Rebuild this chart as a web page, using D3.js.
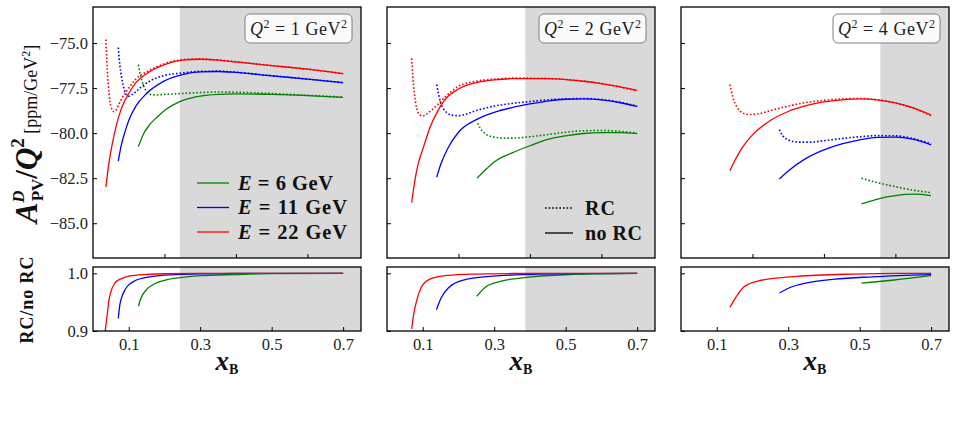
<!DOCTYPE html>
<html><head><meta charset="utf-8">
<script src="https://cdn.jsdelivr.net/npm/d3@7"></script>
<style>body{margin:0;background:#fff}svg{display:block}</style>
</head><body><svg id="c" width="955" height="428"></svg>
<script>
// ---------------- data ----------------
const q2Labels = ["1", "2", "4"];
const energyLabels = ["6", "11", "22"];
const seriesColors = ["#008000", "#0000ff", "#ff0000"];
const shadeStart = [0.243, 0.387, 0.558];
const xTicksTop = [0.2, 0.4, 0.6];
const xTicksBottom = [0.1, 0.3, 0.5, 0.7];
const xTickLabels = ["0.1", "0.3", "0.5", "0.7"];
const yTicksTop = [-85, -82.5, -80, -77.5, -75];
const yTickLabelsTop = ["\u221285.0", "\u221282.5", "\u221280.0", "\u221277.5", "\u221275.0"];
const yTicksBottom = [0.9, 1.0];
const yTickLabelsBottom = ["0.9", "1.0"];

// Q^2 = 1 GeV^2
const q1_e6_norc = [[0.127,-80.75],[0.14,-80.1],[0.16,-79.5],[0.18,-79.1],[0.20,-78.75],[0.25,-78.2],[0.30,-77.95],[0.35,-77.85],[0.40,-77.82],[0.50,-77.85],[0.60,-77.92],[0.70,-78.02]];
const q1_e6_rc = [[0.127,-76.2],[0.133,-76.8],[0.14,-77.3],[0.15,-77.7],[0.16,-77.85],[0.18,-77.88],[0.20,-77.85],[0.25,-77.8],[0.30,-77.75],[0.35,-77.72],[0.40,-77.73],[0.50,-77.8],[0.60,-77.9],[0.70,-78.0]];
const q1_e6_ratio = [[0.127,0.943],[0.135,0.958],[0.15,0.972],[0.17,0.981],[0.20,0.988],[0.25,0.993],[0.30,0.996],[0.40,0.998],[0.50,0.9995],[0.70,1.0]];
const q1_e11_norc = [[0.0707,-81.55],[0.08,-80.6],[0.09,-79.9],[0.10,-79.3],[0.12,-78.5],[0.15,-77.8],[0.20,-77.1],[0.25,-76.75],[0.30,-76.6],[0.35,-76.58],[0.40,-76.63],[0.50,-76.82],[0.60,-77.0],[0.70,-77.2]];
const q1_e11_rc = [[0.0707,-75.25],[0.075,-76.2],[0.08,-76.9],[0.085,-77.4],[0.09,-77.75],[0.10,-77.95],[0.11,-77.85],[0.12,-77.7],[0.14,-77.35],[0.17,-77.0],[0.20,-76.8],[0.25,-76.66],[0.30,-76.57],[0.35,-76.56],[0.40,-76.62],[0.50,-76.81],[0.60,-77.0],[0.70,-77.2]];
const q1_e11_ratio = [[0.0707,0.922],[0.075,0.945],[0.08,0.958],[0.09,0.972],[0.10,0.980],[0.12,0.988],[0.15,0.993],[0.20,0.997],[0.30,0.999],[0.40,1.0],[0.70,1.0]];
const q1_e22_norc = [[0.036,-83.0],[0.045,-81.6],[0.055,-80.5],[0.065,-79.6],[0.08,-78.6],[0.10,-77.8],[0.12,-77.2],[0.15,-76.7],[0.20,-76.2],[0.25,-75.95],[0.30,-75.9],[0.35,-75.95],[0.40,-76.05],[0.50,-76.25],[0.60,-76.45],[0.70,-76.7]];
const q1_e22_rc = [[0.036,-74.8],[0.040,-76.5],[0.045,-77.8],[0.050,-78.5],[0.058,-78.8],[0.065,-78.7],[0.07,-78.5],[0.08,-78.1],[0.10,-77.5],[0.12,-77.0],[0.15,-76.6],[0.20,-76.15],[0.25,-75.92],[0.30,-75.88],[0.35,-75.94],[0.40,-76.04],[0.50,-76.25],[0.60,-76.45],[0.70,-76.7]];
const q1_e22_ratio = [[0.034,0.899],[0.040,0.93],[0.045,0.955],[0.05,0.968],[0.06,0.982],[0.07,0.988],[0.08,0.991],[0.10,0.995],[0.15,0.998],[0.20,0.9993],[0.30,1.0],[0.70,1.0]];

// Q^2 = 2 GeV^2
const q2_e6_norc = [[0.252,-82.5],[0.28,-81.95],[0.30,-81.6],[0.35,-81.1],[0.40,-80.7],[0.45,-80.35],[0.50,-80.15],[0.55,-80.02],[0.60,-79.97],[0.65,-79.97],[0.70,-80.03]];
const q2_e6_rc = [[0.254,-79.45],[0.26,-79.7],[0.27,-79.95],[0.28,-80.1],[0.30,-80.22],[0.33,-80.28],[0.36,-80.27],[0.40,-80.2],[0.45,-80.08],[0.50,-79.95],[0.55,-79.87],[0.60,-79.85],[0.65,-79.9],[0.70,-80.0]];
const q2_e6_ratio = [[0.251,0.960],[0.275,0.976],[0.317,0.986],[0.392,0.993],[0.509,0.998],[0.60,0.9993],[0.70,1.0]];
const q2_e11_norc = [[0.139,-82.45],[0.15,-81.75],[0.17,-80.85],[0.20,-79.95],[0.25,-79.25],[0.30,-78.85],[0.35,-78.58],[0.40,-78.38],[0.45,-78.22],[0.50,-78.12],[0.55,-78.1],[0.60,-78.15],[0.65,-78.3],[0.70,-78.52]];
const q2_e11_rc = [[0.139,-77.3],[0.145,-77.9],[0.15,-78.3],[0.16,-78.7],[0.17,-78.9],[0.18,-79.0],[0.20,-79.03],[0.22,-78.95],[0.25,-78.75],[0.30,-78.5],[0.35,-78.35],[0.40,-78.25],[0.45,-78.15],[0.50,-78.1],[0.55,-78.08],[0.60,-78.13],[0.65,-78.28],[0.70,-78.5]];
const q2_e11_ratio = [[0.1385,0.937],[0.152,0.958],[0.174,0.976],[0.211,0.988],[0.296,0.995],[0.40,0.998],[0.55,0.9995],[0.70,1.0]];
const q2_e22_norc = [[0.069,-83.85],[0.08,-82.4],[0.09,-81.5],[0.10,-80.9],[0.12,-79.7],[0.14,-78.85],[0.16,-78.2],[0.20,-77.55],[0.25,-77.2],[0.30,-77.05],[0.35,-76.98],[0.40,-76.97],[0.45,-76.98],[0.50,-77.03],[0.55,-77.12],[0.60,-77.25],[0.65,-77.42],[0.70,-77.63]];
const q2_e22_rc = [[0.069,-75.85],[0.072,-76.8],[0.076,-77.7],[0.08,-78.3],[0.085,-78.75],[0.09,-78.95],[0.10,-79.05],[0.11,-78.95],[0.12,-78.8],[0.14,-78.45],[0.16,-78.05],[0.20,-77.4],[0.25,-77.12],[0.30,-77.0],[0.35,-76.95],[0.40,-76.95],[0.50,-77.02],[0.60,-77.25],[0.70,-77.66]];
const q2_e22_ratio = [[0.069,0.9035],[0.075,0.93],[0.083,0.9526],[0.09,0.967],[0.099,0.979],[0.12,0.990],[0.168,0.9965],[0.243,0.9988],[0.35,0.9997],[0.50,1.0],[0.70,1.0]];

// Q^2 = 4 GeV^2
const q4_e6_norc = [[0.505,-83.93],[0.53,-83.78],[0.55,-83.66],[0.60,-83.47],[0.65,-83.39],[0.70,-83.47]];
const q4_e6_rc = [[0.505,-82.5],[0.55,-82.75],[0.60,-82.97],[0.65,-83.17],[0.70,-83.3]];
const q4_e6_ratio = [[0.505,0.983],[0.59,0.988],[0.70,0.996]];
const q4_e11_norc = [[0.275,-82.55],[0.30,-82.1],[0.35,-81.4],[0.40,-80.93],[0.45,-80.6],[0.50,-80.37],[0.55,-80.23],[0.60,-80.22],[0.65,-80.35],[0.70,-80.65]];
const q4_e11_rc = [[0.275,-79.8],[0.285,-80.15],[0.30,-80.38],[0.33,-80.5],[0.36,-80.5],[0.40,-80.42],[0.45,-80.3],[0.50,-80.2],[0.55,-80.14],[0.60,-80.15],[0.65,-80.3],[0.70,-80.6]];
const q4_e11_ratio = [[0.276,0.966],[0.302,0.9746],[0.356,0.984],[0.43,0.990],[0.537,0.994],[0.70,0.9977]];
const q4_e22_norc = [[0.137,-82.08],[0.15,-81.55],[0.17,-80.85],[0.20,-80.1],[0.25,-79.3],[0.30,-78.8],[0.35,-78.48],[0.40,-78.27],[0.45,-78.15],[0.50,-78.1],[0.55,-78.15],[0.60,-78.32],[0.65,-78.6],[0.70,-79.0]];
const q4_e22_rc = [[0.137,-77.3],[0.145,-78.0],[0.155,-78.5],[0.17,-78.85],[0.19,-78.97],[0.21,-78.95],[0.25,-78.75],[0.30,-78.5],[0.35,-78.3],[0.40,-78.18],[0.45,-78.1],[0.50,-78.08],[0.55,-78.15],[0.60,-78.33],[0.65,-78.62],[0.70,-79.03]];
const q4_e22_ratio = [[0.137,0.941],[0.153,0.958],[0.175,0.976],[0.217,0.987],[0.324,0.9948],[0.484,0.9988],[0.60,1.0],[0.70,1.0]];

const panelSeries = [
  { norc: [q1_e6_norc, q1_e11_norc, q1_e22_norc], rc: [q1_e6_rc, q1_e11_rc, q1_e22_rc], ratio: [q1_e6_ratio, q1_e11_ratio, q1_e22_ratio] },
  { norc: [q2_e6_norc, q2_e11_norc, q2_e22_norc], rc: [q2_e6_rc, q2_e11_rc, q2_e22_rc], ratio: [q2_e6_ratio, q2_e11_ratio, q2_e22_ratio] },
  { norc: [q4_e6_norc, q4_e11_norc, q4_e22_norc], rc: [q4_e6_rc, q4_e11_rc, q4_e22_rc], ratio: [q4_e6_ratio, q4_e11_ratio, q4_e22_ratio] }
];

// ---------------- layout ----------------
const svg = d3.select("#c");
const SERIF = "'Liberation Serif','DejaVu Serif',serif";
const panelLeft = [93, 387, 681];
const panelW = 268;
const topY0 = 7, topY1 = 258, botY0 = 267, botY1 = 331;
const shadeColor = "#d9d9d9";

const yTop = d3.scaleLinear().domain([-86.93, -73.0]).range([topY1, topY0]);
const yBot = d3.scaleLinear().domain([0.9, 1.011]).range([botY1, botY0]);

const defs = svg.append("defs");

panelLeft.forEach((L, p) => {
  const x = d3.scaleLinear().domain([0, 0.75]).range([L, L + panelW]);
  const data = panelSeries[p];

  ["top", "bot"].forEach(which => {
    const y0 = which === "top" ? topY0 : botY0;
    const y1 = which === "top" ? topY1 : botY1;
    const id = `clip-${p}-${which}`;
    defs.append("clipPath").attr("id", id).append("rect")
      .attr("x", L).attr("y", y0).attr("width", panelW).attr("height", y1 - y0);
    const g = svg.append("g");
    g.append("rect").attr("x", x(shadeStart[p])).attr("y", y0)
      .attr("width", x(0.75) - x(shadeStart[p])).attr("height", y1 - y0).attr("fill", shadeColor);

    const plot = g.append("g").attr("clip-path", `url(#${id})`);
    if (which === "top") {
      const line = d3.line().x(d => x(d[0])).y(d => yTop(d[1])).curve(d3.curveMonotoneX);
      [0, 1, 2].forEach(i => {
        plot.append("path").attr("d", line(data.norc[i])).attr("fill", "none")
          .attr("stroke", seriesColors[i]).attr("stroke-width", 1.3);
        plot.append("path").attr("d", line(data.rc[i])).attr("fill", "none")
          .attr("stroke", seriesColors[i]).attr("stroke-width", 1.6)
          .attr("stroke-dasharray", "1.6,2.0");
      });
      const ax = d3.axisLeft(yTop).tickValues(yTicksTop).tickSize(-4).tickPadding(5)
        .tickFormat((d, i) => p === 0 ? yTickLabelsTop[i] : "");
      const ga = g.append("g").attr("transform", `translate(${L},0)`).call(ax);
      const bx = d3.axisBottom(x).tickValues(xTicksTop).tickSize(-4).tickFormat("");
      const gb = g.append("g").attr("transform", `translate(0,${y1})`).call(bx);
      [ga, gb].forEach(a => { a.select(".domain").remove(); a.selectAll("line").attr("stroke", "#000").attr("stroke-width", 1); });
      ga.selectAll("text").attr("font-family", SERIF).attr("font-size", 16.5).attr("fill", "#222");
    } else {
      const line = d3.line().x(d => x(d[0])).y(d => yBot(d[1])).curve(d3.curveMonotoneX);
      [0, 1, 2].forEach(i => {
        plot.append("path").attr("d", line(data.ratio[i])).attr("fill", "none")
          .attr("stroke", seriesColors[i]).attr("stroke-width", 1.3);
      });
      const ax = d3.axisLeft(yBot).tickValues(yTicksBottom).tickSize(-4).tickPadding(5)
        .tickFormat((d, i) => p === 0 ? yTickLabelsBottom[i] : "");
      const ga = g.append("g").attr("transform", `translate(${L},0)`).call(ax);
      const bx = d3.axisBottom(x).tickValues(xTicksBottom).tickSize(-4).tickPadding(7)
        .tickFormat((d, i) => xTickLabels[i]);
      const gb = g.append("g").attr("transform", `translate(0,${y1})`).call(bx);
      [ga, gb].forEach(a => {
        a.select(".domain").remove();
        a.selectAll("line").attr("stroke", "#000").attr("stroke-width", 1);
        a.selectAll("text").attr("font-family", SERIF).attr("font-size", 16.5).attr("fill", "#222");
      });
    }
    g.append("rect").attr("x", L).attr("y", y0).attr("width", panelW).attr("height", y1 - y0)
      .attr("fill", "none").attr("stroke", "#000").attr("stroke-width", 1.3);
  });

  // Q^2 label box
  const bx0 = L + panelW - 116, by0 = 14;
  svg.append("rect").attr("x", bx0).attr("y", by0).attr("width", 107).attr("height", 29)
    .attr("rx", 5).attr("fill", "#fff").attr("fill-opacity", 0.85)
    .attr("stroke", "#808080").attr("stroke-width", 1);
  const qt = svg.append("text").attr("x", bx0 + 5).attr("y", by0 + 21)
    .attr("textLength", 97).attr("lengthAdjust", "spacing")
    .attr("font-family", SERIF).attr("font-size", 18).attr("fill", "#222");
  qt.append("tspan").attr("font-style", "italic").text("Q");
  qt.append("tspan").attr("font-size", 12).attr("dy", -7).text("2");
  qt.append("tspan").attr("dy", 7).text(" = " + q2Labels[p] + " GeV");
  qt.append("tspan").attr("font-size", 12).attr("dy", -7).text("2");

  // x label
  const xl = svg.append("text").attr("x", L + panelW / 2).attr("y", 370).attr("text-anchor", "middle")
    .attr("font-family", SERIF).attr("font-weight", "bold").attr("fill", "#111");
  xl.append("tspan").attr("font-style", "italic").attr("font-size", 27).text("x");
  xl.append("tspan").attr("font-size", 14).attr("dy", 4).text("B");
});

// Energy legend (panel 1)
energyLabels.forEach((e, i) => {
  const yy = 183 + i * 24.5;
  svg.append("line").attr("x1", 197).attr("x2", 229).attr("y1", yy).attr("y2", yy)
    .attr("stroke", seriesColors[i]).attr("stroke-width", 1.3);
  const t = svg.append("text").attr("x", 238).attr("y", yy + 6.5).attr("font-family", SERIF)
    .attr("textLength", e.length > 1 ? 109 : 95).attr("lengthAdjust", "spacing")
    .attr("font-weight", "bold").attr("font-size", 20.5).attr("fill", "#111");
  t.append("tspan").attr("font-style", "italic").text("E");
  t.append("tspan").text(" = " + e + " GeV");
});

// RC / no RC legend (panel 2)
[["RC", true, 30], ["no RC", false, 57]].forEach(([lab, dotted, w], i) => {
  const yy = 208 + i * 25;
  const ln = svg.append("line").attr("x1", 545).attr("x2", 573).attr("y1", yy).attr("y2", yy)
    .attr("stroke", "#000").attr("stroke-width", dotted ? 1.6 : 1.3);
  if (dotted) ln.attr("stroke-dasharray", "1.6,2.0");
  svg.append("text").attr("x", 585).attr("y", yy + 6.5).attr("font-family", SERIF)
    .attr("textLength", w).attr("lengthAdjust", "spacing")
    .attr("font-weight", "bold").attr("font-size", 20).attr("fill", "#111").text(lab);
});

// Y axis label (top)
const yl = svg.append("text").attr("transform", "translate(37,134) rotate(-90)")
  .attr("text-anchor", "middle").attr("font-family", SERIF).attr("fill", "#111");
yl.append("tspan").attr("font-weight", "bold").attr("font-style", "italic").attr("font-size", 31).text("A");
yl.append("tspan").attr("font-weight", "bold").attr("font-style", "italic").attr("font-size", 17).attr("dy", -13).text("D");
yl.append("tspan").attr("font-weight", "bold").attr("font-size", 17).attr("dx", -11).attr("dy", 19).text("PV");
yl.append("tspan").attr("font-weight", "bold").attr("font-size", 31).attr("dy", -6).text("/");
yl.append("tspan").attr("font-weight", "bold").attr("font-style", "italic").attr("font-size", 31).text("Q");
yl.append("tspan").attr("font-weight", "bold").attr("font-size", 19).attr("dy", -13).text("2");
yl.append("tspan").attr("font-size", 18).attr("dy", 13).text(" [ppm/GeV");
yl.append("tspan").attr("font-size", 12).attr("dy", -7).text("2");
yl.append("tspan").attr("font-size", 18).attr("dy", 7).text("]");

// Y axis label (bottom)
svg.append("text").attr("transform", "translate(33,300) rotate(-90)").attr("text-anchor", "middle")
  .attr("textLength", 87).attr("lengthAdjust", "spacing")
  .attr("font-family", SERIF).attr("font-weight", "bold").attr("font-size", 18).attr("fill", "#111")
  .text("RC/no RC");
</script></body></html>
